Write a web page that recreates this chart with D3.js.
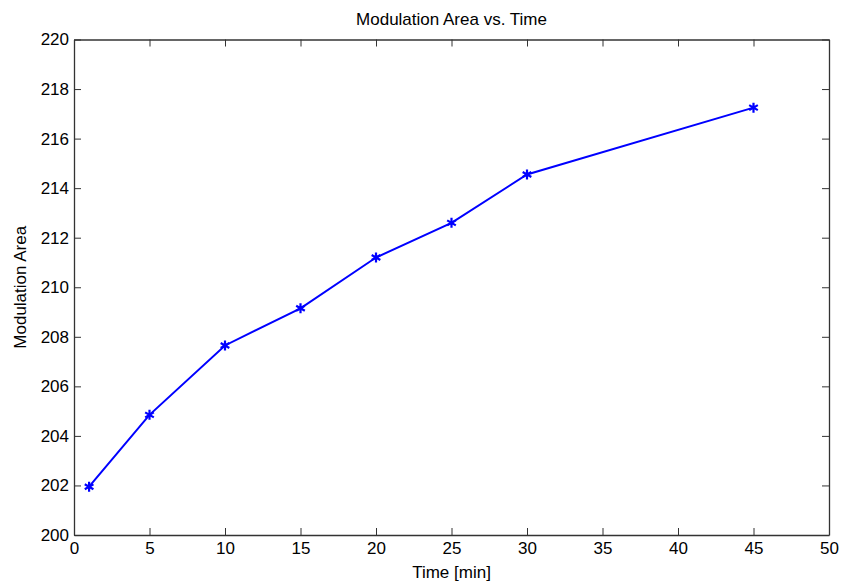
<!DOCTYPE html>
<html>
<head>
<meta charset="utf-8">
<script src="https://cdn.jsdelivr.net/npm/d3@7"></script>
<style>
  body { margin: 0; background: #fff; }
  text { font-family: "Liberation Sans", Arial, sans-serif; fill: #000; }
  .axis path, .axis line { stroke: #333; }
</style>
</head>
<body>
<script>
var timeMin = [1, 5, 10, 15, 20, 25, 30, 45];
var modArea = [201.95, 204.85, 207.65, 209.15, 211.2, 212.6, 214.55, 217.25];
var xTicks = [0, 5, 10, 15, 20, 25, 30, 35, 40, 45, 50];
var yTicks = [200, 202, 204, 206, 208, 210, 212, 214, 216, 218, 220];

var W = 842, H = 582;
var margin = { top: 39.5, right: 13, bottom: 47, left: 74 },
  width = W - margin.left - margin.right,
  height = H - margin.top - margin.bottom;

var x = d3.scaleLinear().domain([0, 50]).range([0, width]);
var y = d3.scaleLinear().domain([200, 220]).range([height, 0]);

var svg = d3.select("body").append("svg")
  .attr("width", W).attr("height", H);

var g = svg.append("g")
  .attr("transform", "translate(" + margin.left + "," + margin.top + ")");

// box + inward ticks on all four sides
var tl = 7;
g.append("g").attr("class", "axis")
  .attr("transform", "translate(0," + height + ")")
  .call(d3.axisBottom(x).tickValues(xTicks).tickSizeInner(-tl).tickSizeOuter(0).tickPadding(6))
  .call(function (a) { a.selectAll("text").style("font-size", "17px").attr("dy", "0.75em"); });
g.append("g").attr("class", "axis")
  .call(d3.axisTop(x).tickValues(xTicks).tickSizeInner(-tl).tickSizeOuter(0))
  .call(function (a) { a.selectAll("text").remove(); });
g.append("g").attr("class", "axis")
  .call(d3.axisLeft(y).tickValues(yTicks).tickSizeInner(-tl).tickSizeOuter(0).tickPadding(5))
  .call(function (a) { a.selectAll("text").style("font-size", "17px"); });
g.append("g").attr("class", "axis")
  .attr("transform", "translate(" + width + ",0)")
  .call(d3.axisRight(y).tickValues(yTicks).tickSizeInner(-tl).tickSizeOuter(0))
  .call(function (a) { a.selectAll("text").remove(); });
g.selectAll(".axis .domain").attr("stroke", "#333").attr("stroke-width", 1.3);

var pts = timeMin.map(function (t, i) { return { t: t, v: modArea[i] }; });

var line = d3.line()
  .x(function (d) { return x(d.t); })
  .y(function (d) { return y(d.v); });

g.append("path").datum(pts)
  .attr("fill", "none")
  .attr("stroke", "#0000ff")
  .attr("stroke-width", 2)
  .attr("d", line);

// asterisk markers
var star = d3.symbol().type(d3.symbolAsterisk).size(70);
g.selectAll(".mk").data(pts).enter().append("path")
  .attr("class", "mk")
  .attr("transform", function (d) { return "translate(" + x(d.t) + "," + y(d.v) + ")"; })
  .attr("d", star)
  .attr("stroke", "#0000ff")
  .attr("stroke-width", 2.2)
  .attr("fill", "none");

svg.append("text")
  .attr("x", margin.left + width / 2).attr("y", 25)
  .attr("text-anchor", "middle")
  .style("font-size", "17px")
  .text("Modulation Area vs. Time");

svg.append("text")
  .attr("x", margin.left + width / 2).attr("y", 578)
  .attr("text-anchor", "middle")
  .style("font-size", "17px")
  .text("Time [min]");

svg.append("text")
  .attr("transform", "translate(26," + (margin.top + height / 2) + ") rotate(-90)")
  .attr("text-anchor", "middle")
  .style("font-size", "17px")
  .text("Modulation Area");
</script>
</body>
</html>
